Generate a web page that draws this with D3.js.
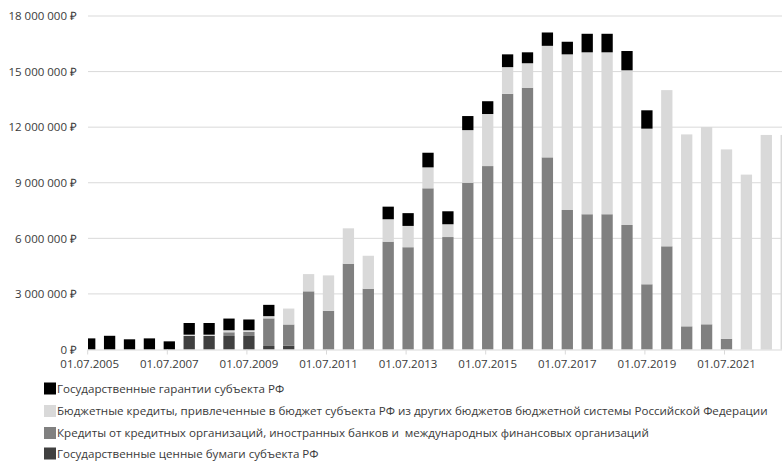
<!DOCTYPE html>
<html><head><meta charset="utf-8">
<script src="https://cdn.jsdelivr.net/npm/d3@7"></script>
<style>
body{margin:0;background:#fff}
svg{display:block}
text{font-family:"Open Sans",sans-serif;fill:#3a3a3a}
.lgtext{white-space:pre}
</style>
</head><body>
<svg id="c" width="782" height="461"></svg>
<script>
// Reporting dates (semiannual)
const dates = ["01.07.2005","01.01.2006","01.07.2006","01.01.2007","01.07.2007","01.01.2008","01.07.2008","01.01.2009","01.07.2009","01.01.2010","01.07.2010","01.01.2011","01.07.2011","01.01.2012","01.07.2012","01.01.2013","01.07.2013","01.01.2014","01.07.2014","01.01.2015","01.07.2015","01.01.2016","01.07.2016","01.01.2017","01.07.2017","01.01.2018","01.07.2018","01.01.2019","01.07.2019","01.01.2020","01.07.2020","01.01.2021","01.07.2021","01.01.2022","01.07.2022","01.01.2023"];
// Series values, rubles
const securities    = [0,0,0,0,0,730000,730000,730000,730000,190000,200000,0,0,0,0,0,0,0,0,0,0,0,0,0,0,0,0,0,0,0,0,0,0,0,0,0];
const bankCredits   = [0,0,0,0,0,0,0,200000,220000,1490000,1150000,3140000,2090000,4630000,3280000,5820000,5520000,8700000,6070000,9000000,9900000,13800000,14130000,10370000,7530000,7300000,7300000,6720000,3520000,5570000,1250000,1360000,570000,0,0,0];
const budgetCredits = [0,0,0,0,0,70000,70000,110000,90000,120000,860000,930000,1910000,1910000,1780000,1210000,1150000,1130000,690000,2840000,2810000,1440000,1320000,6020000,8400000,8740000,8740000,8350000,8400000,8430000,10360000,10650000,10230000,9440000,11580000,11580000];
const guarantees    = [600000,740000,550000,600000,440000,630000,630000,630000,580000,610000,0,0,0,0,0,680000,690000,790000,700000,760000,690000,690000,590000,720000,680000,1000000,1000000,1040000,990000,0,0,0,0,0,0,0];
// Axis ticks
const yTicks = [0,3000000,6000000,9000000,12000000,15000000,18000000];
const xTickLabels = ["01.07.2005","01.07.2007","01.07.2009","01.07.2011","01.07.2013","01.07.2015","01.07.2017","01.07.2019","01.07.2021"];
// Series names (legend order, top to bottom)
const legendNames = [
  "Государственные гарантии субъекта РФ",
  "Бюджетные кредиты, привлеченные в бюджет субъекта РФ из других бюджетов бюджетной системы Российской Федерации",
  "Кредиты от кредитных организаций, иностранных банков и  международных финансовых организаций",
  "Государственные ценные бумаги субъекта РФ"
];
const legendKeys = ["guar","budget","bank","sec"];

const colors = {sec:"#404040", bank:"#808080", budget:"#d9d9d9", guar:"#000000"};
const rows = dates.map((d,i)=>({date:d, sec:securities[i], bank:bankCredits[i], budget:budgetCredits[i], guar:guarantees[i]}));

const svg = d3.select("#c");
const plotLeft = 88, plotRight = 782, y0 = 349.5, yTop = 16;

const x = d3.scaleBand().domain(dates).range([79.75, 79.75 + 19.9*dates.length]).paddingInner(0.432).paddingOuter(0.216);
const y = d3.scaleLinear().domain([0, 18000000]).range([y0, yTop]);

// gridlines
svg.append("g").selectAll("line").data(yTicks.filter(t=>t>0)).join("line")
  .attr("x1", plotLeft).attr("x2", plotRight)
  .attr("y1", d=>y(d)).attr("y2", d=>y(d))
  .attr("stroke", "#d9d9d9").attr("stroke-width", 1);

// y axis labels
const fmt = v => d3.format(",")(v).replace(/,/g, "\u00a0") + "\u00a0₽";
const yAxis = d3.axisLeft(y).tickValues(yTicks).tickSize(0).tickPadding(0).tickFormat(fmt);
const gy = svg.append("g").attr("transform", "translate(77,0)").call(yAxis);
gy.select(".domain").remove();
gy.selectAll("text").attr("font-size", 11.5).attr("font-family", '"Open Sans",sans-serif').attr("fill", "#3a3a3a");

// bars
svg.append("clipPath").attr("id","clip").append("rect").attr("x", plotLeft).attr("y", 0).attr("width", plotRight - plotLeft).attr("height", 360);
const stack = d3.stack().keys(["sec","bank","budget","guar"]);
const series = stack(rows);
const gb = svg.append("g").attr("clip-path","url(#clip)");
gb.selectAll("g").data(series).join("g").attr("fill", s=>colors[s.key])
  .selectAll("rect").data(s=>s.filter(d=>d[1]-d[0]>0)).join("rect")
  .attr("x", d=>x(d.data.date)).attr("width", x.bandwidth())
  .attr("y", d=>y(d[1])).attr("height", d=>y(d[0]) - y(d[1]));

// x axis line
svg.append("line").attr("x1", plotLeft).attr("x2", plotRight).attr("y1", y0+0.5).attr("y2", y0+0.5)
  .attr("stroke", "#d9d9d9").attr("stroke-width", 1);
const xAxis = d3.axisBottom(x).tickValues(xTickLabels).tickSize(5).tickPadding(5);
const gx = svg.append("g").attr("transform", `translate(0,${y0})`).call(xAxis);
gx.select(".domain").remove();
gx.selectAll(".tick line").attr("x1", -2).attr("x2", -2).attr("stroke", "#d9d9d9");
gx.selectAll("text").attr("font-size", 11.5).attr("font-family", '"Open Sans",sans-serif').attr("fill", "#3a3a3a");

// legend
const legendY = [388.5, 411, 433, 453.5];
const lg = svg.append("g").selectAll("g").data(legendKeys).join("g")
  .attr("transform", (d,i)=>`translate(44,${legendY[i]})`);
lg.append("rect").attr("x", 0).attr("y", -6).attr("width", 12).attr("height", 12).attr("fill", d=>colors[d]);
lg.append("text").attr("class","lgtext").attr("x", 13).attr("y", 0).attr("dy", "0.35em").attr("font-size", 11.6)
  .text((d,i)=>legendNames[i]);
</script>
</body></html>
